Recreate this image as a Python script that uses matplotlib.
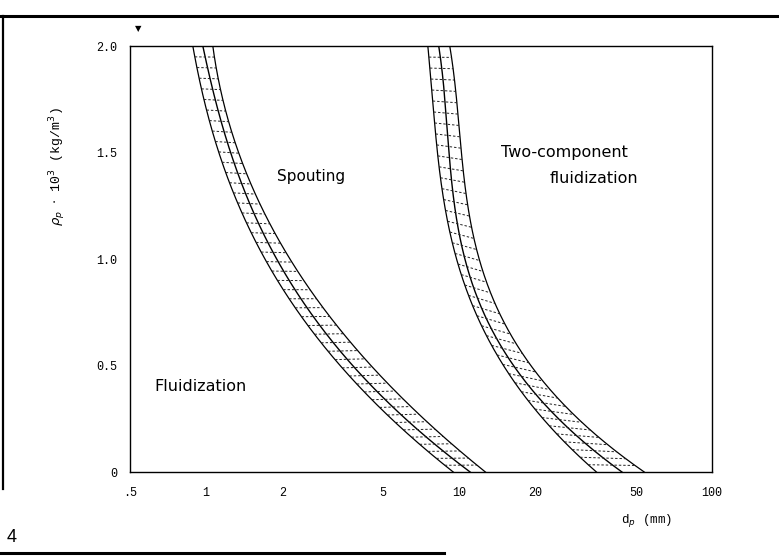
import numpy as np
import matplotlib
matplotlib.use('Agg')
import matplotlib.pyplot as plt
from matplotlib.lines import Line2D

# density levels (10^3 kg/m^3) where the boundary lines were read
band1_y = [0.0, 0.103, 0.30, 0.573, 1.089, 1.5, 2.0]
band1_left = [9.46, 7.88, 4.73, 2.90, 1.68, 1.064, 0.887]
band1_mid = [11.04, 9.03, 5.33, 3.23, 1.905, 1.166, 0.972]
band1_right = [12.66, 10.74, 6.39, 3.77, 2.09, 1.277, 1.064]

band2_y = [0.0, 0.150, 0.305, 0.624, 1.089, 1.5, 2.0]
band2_left = [35.1, 24.6, 18.7, 13.86, 9.37, 8.03, 7.53]
band2_mid = [44.4, 28.2, 21.2, 15.2, 10.26, 8.79, 8.32]
band2_right = [54.3, 35.1, 25.0, 17.4, 11.76, 9.81, 9.2]

x_ticks = [0.5, 1, 2, 5, 10, 20, 50, 100]
x_ticklabels = ['.5', '1', '2', '5', '10', '20', '50', '100']
y_ticks = [0, 0.5, 1.0, 1.5, 2.0]
y_ticklabels = ['0', '0.5', '1.0', '1.5', '2.0']


def curve(ys, xs_read):
    # smooth line through the read points (log d against density)
    w = np.ones(len(ys))
    w[0] = w[-1] = 3.0
    coef = np.polyfit(ys, np.log10(xs_read), 3, w=w)
    yy = np.linspace(0, 2.0, 400)
    return 10**np.polyval(coef, yy), yy


def arc_points(xc, yc, n):
    u = 253 * np.log10(xc)
    v = 213 * yc
    s = np.concatenate([[0], np.cumsum(np.hypot(np.diff(u), np.diff(v)))])
    s = s / s[-1]
    targets = np.linspace(0, 1, n)
    return np.interp(targets, s, xc), np.interp(targets, s, yc)


fig = plt.figure(figsize=(7.79, 5.56), dpi=100)
ax = fig.add_axes([0.1669, 0.151, 0.7471, 0.766])

for ys, left, mid, right, n in [(band1_y, band1_left, band1_mid, band1_right, 48),
                                (band2_y, band2_left, band2_mid, band2_right, 44)]:
    lx, ly = curve(ys, left)
    mx, my = curve(ys, mid)
    rx, ry = curve(ys, right)
    ax.plot(lx, ly, color='black', lw=0.9)
    ax.plot(mx, my, color='black', lw=1.0)
    ax.plot(rx, ry, color='black', lw=0.9)
    ax_, ay_ = arc_points(lx, ly, n)
    bx_, by_ = arc_points(rx, ry, n)
    for i in range(1, n - 1):
        ax.plot([ax_[i], bx_[i]], [ay_[i], by_[i]], color='#222222',
                lw=0.7, ls=(0, (2.5, 2)))

ax.set_xscale('log')
ax.set_xlim(0.5, 100)
ax.set_ylim(0, 2.0)
ax.set_xticks(x_ticks)
ax.set_xticklabels(x_ticklabels)
ax.minorticks_off()
ax.set_yticks(y_ticks)
ax.set_yticklabels(y_ticklabels)
ax.tick_params(axis='both', length=0, labelsize=8.5)
ax.tick_params(axis='x', pad=11)
ax.tick_params(axis='y', pad=9)
for lab in ax.get_xticklabels() + ax.get_yticklabels():
    lab.set_family('Liberation Mono')
for sp in ax.spines.values():
    sp.set_linewidth(1.0)

ax.text(1.90, 1.39, 'Spouting', fontsize=11, family='DejaVu Sans', va='center')
ax.text(14.6, 1.50, 'Two-component', fontsize=11.5, family='DejaVu Sans', va='center')
ax.text(22.8, 1.38, 'fluidization', fontsize=11.5, family='DejaVu Sans', va='center')
ax.text(0.625, 0.40, 'Fluidization', fontsize=11.5, family='DejaVu Sans', va='center')

fig.text(0.0745, 0.70, r'$\rho_p$ $\cdot$ 10$^3$ (kg/m$^3$)', rotation=90,
         fontsize=9.5, family='Liberation Mono', ha='center', va='center')
fig.text(0.83, 0.063, r'd$_p$ (mm)', fontsize=9, family='Liberation Mono',
         ha='center', va='center')
fig.text(0.177, 0.948, '\u25bc', fontsize=6, ha='center', va='center')
fig.text(0.008, 0.033, '4', fontsize=13, family='Liberation Sans', va='center')

# page frame of the scanned figure
fig.add_artist(Line2D([0, 1], [0.971, 0.971], color='black', lw=2.2))
fig.add_artist(Line2D([0.004, 0.004], [0.12, 0.971], color='black', lw=1.6))
fig.add_artist(Line2D([0, 0.57], [0.006, 0.006], color='black', lw=2.2))

plt.savefig('out.png', dpi=100)
